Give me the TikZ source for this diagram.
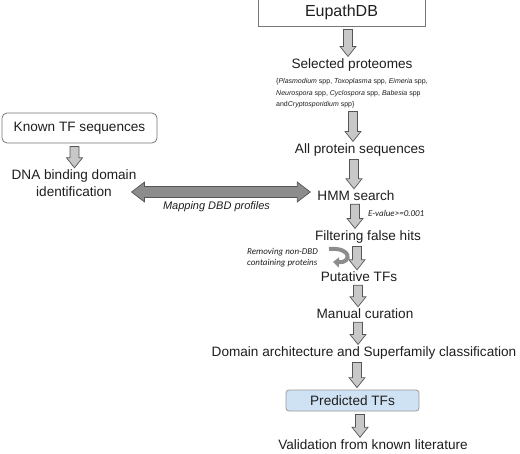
\documentclass[tikz,border=0pt]{standalone}
\usepackage{fontspec}
\setmainfont{Liberation Sans}
\newfontfamily\calib{Carlito}
\usetikzlibrary{calc}
\usetikzlibrary{arrows.meta}
\definecolor{PredBlue}{RGB}{207,226,244}
\definecolor{PfeilGrau}{RGB}{200,200,200}
\definecolor{DunkelGrau}{RGB}{140,140,140}
\definecolor{Rand}{RGB}{85,85,85}
\definecolor{Schrift}{RGB}{30,30,30}

\begin{document}
\begin{tikzpicture}[x=1pt, y=-1pt,
  Txt/.style={inner sep=0pt, text=Schrift, font=\fontsize{13.6}{17}\selectfont},
  Klein/.style={inner sep=0pt, text=Schrift, align=left, anchor=west, font=\calib\itshape\fontsize{9}{11}\selectfont},
  Box/.style={draw=Rand!80, line width=0.8pt, inner sep=0pt, text=Schrift},
  Block/.style={draw=Rand, fill=PfeilGrau, line width=0.7pt, line join=miter,
    to path={let \p1=(\tikztostart.south), \p2=(\tikztotarget.north) in
      (#1pt-4.5pt,\y1-3pt) -- (#1pt+4.5pt,\y1-3pt) -- (#1pt+4.5pt,\y2+12pt) -- (#1pt+8pt,\y2+12pt)
      -- (#1pt,\y2+2pt) -- (#1pt-8pt,\y2+12pt) -- (#1pt-4.5pt,\y2+12pt) -- cycle}},
  Dbl/.style={draw=Rand, fill=DunkelGrau, line width=0.7pt,
    to path={let \p1=(\tikztostart.east), \p2=(\tikztotarget.west) in
      (\x1-5pt,\y2+4pt) -- (\x1+8pt,\y2+14pt) -- (\x1+8pt,\y2+9.5pt) -- (\x2-20pt,\y2+9.5pt)
      -- (\x2-20pt,\y2+14pt) -- (\x2-7pt,\y2+4pt) -- (\x2-20pt,\y2-6pt) -- (\x2-20pt,\y2-1.5pt)
      -- (\x1+8pt,\y2-1.5pt) -- (\x1+8pt,\y2-6pt) -- cycle}},
  Kurve/.style={line width=4pt, draw=DunkelGrau, -{Triangle[length=6pt, width=10pt]}}]
\useasboundingbox (0,0) rectangle (520,453);

% Hauptspalte
\node[Box, minimum width=167pt, minimum height=28pt, font=\fontsize{16}{18}\selectfont] (db) at (341.5,12) {EupathDB};
\node[Txt] (sel) at (352,65) {Selected proteomes};
\node[inner sep=0pt, text=Schrift, anchor=west, align=left, font=\fontsize{7}{11.5}\selectfont] (spp) at (276,93.5)
  {\{\textit{Plasmodium} spp, \textit{Toxoplasma} spp, \textit{Eimeria} spp,\\
   \textit{Neurospora} spp, \textit{Cyclospora} spp, \textit{Babesia} spp\\
   and\textit{Cryptosporidium} spp\}};
\node[Txt] (all) at (360,150) {All protein sequences};
\node[Txt] (hmm) at (356,196) {HMM search};
\node[Klein] (eval) at (368,213) {E-value>=0.001};
\node[Txt] (filt) at (368,237) {Filtering false hits};
\node[Klein] (rem) at (247,257.5) {Removing non-DBD\\containing proteins};
\node[Txt] (put) at (359,277) {Putative TFs};
\node[Txt] (man) at (365,314) {Manual curation};
\node[Txt] (dom) at (364,353) {Domain architecture and Superfamily classification};
\node[Box, rounded corners=3pt, fill=PredBlue, draw=Rand!60, minimum width=133pt, minimum height=21pt, font=\fontsize{13.6}{17}\selectfont] (pred) at (352.5,400.5) {Predicted TFs};
\node[Txt] (val) at (373,444.5) {Validation from known literature};

% linke Seite
\node[Box, rounded corners=5pt, minimum width=155pt, minimum height=30pt, font=\fontsize{13.6}{17}\selectfont] (known) at (79.5,128) {Known TF sequences};
\node[Txt, align=center] (dna) at (74,183.5) {DNA binding domain\\identification};
\node[Txt, font=\itshape\fontsize{11}{13}\selectfont] (map) at (216.5,207) {Mapping DBD profiles};

\draw[Block=348] (db) to (sel);
\draw[Block=353] (spp) to (all);
\draw[Block=354] (all) to (hmm);
\draw[Block=355] (hmm) to (filt);
\draw[Block=357] (filt) to (put);
\draw[Block=358] (put) to (man);
\draw[Block=358] (man) to (dom);
\draw[Block=357] (dom) to (pred);
\draw[Block=360] (pred) to (val);
\draw[Block=74.5] (known) to (dna);
\draw[Dbl] (dna) to (hmm);

\coordinate (dreh1) at (329,249);
\coordinate (dreh2) at (333,262);
\draw[Kurve] (dreh1) .. controls (352,247) and (352,263) .. (dreh2);
\end{tikzpicture}
\end{document}
